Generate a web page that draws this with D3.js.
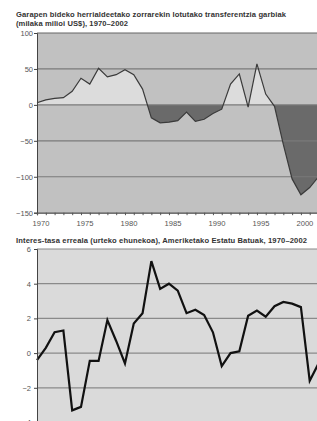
<!DOCTYPE html>
<html lang="en">
<head>
<meta charset="UTF-8">
<title>Transferentziak eta interes-tasa</title>
<script src="https://cdn.jsdelivr.net/npm/d3@7"></script>
<style>
  body { margin: 0; background: #fff; }
  svg { display: block; font-family: "Liberation Sans", Arial, sans-serif; }
</style>
</head>
<body>
<div id="chart"></div>
<script>
// years shared by both panels
const years = d3.range(1970, 2003);
// net transfers, thousand million US$
const transfers = [3, 7, 9, 10, 19, 37, 29, 51, 39, 42, 49, 42, 22, -18, -25,
  -24, -22, -10, -23, -20, -12, -6, 29, 43, -3, 57, 15, -2, -55, -103, -125, -115, -100];
// real interest rate, %
const rates = [-0.4, 0.3, 1.2, 1.3, -3.3, -3.1, -0.45, -0.45, 1.9, 0.7, -0.6, 1.7, 2.3, 5.3, 3.7,
  4.0, 3.6, 2.3, 2.5, 2.2, 1.2, -0.75, 0.0, 0.1, 2.15, 2.45, 2.1, 2.7, 2.95, 2.85, 2.65, -1.6, -0.6];
const topTicks = [100, 50, 0, -50, -100, -150];
const bottomTicks = [6, 4, 2, 0, -2, -4];
const yearLabels = [1970, 1975, 1980, 1985, 1990, 1995, 2000];

const w = 317, h = 421;
const left = 37;

const svg = d3.select('#chart').append('svg')
  .attr('width', w).attr('height', h);

const x = d3.scaleLinear().domain([1970, 2002]).range([left, 318.5]);

function title(txt, y, len) {
  svg.append('text').attr('x', 16).attr('y', y)
    .attr('font-size', 7.6).attr('font-weight', 'bold').attr('fill', '#333')
    .attr('textLength', len).attr('lengthAdjust', 'spacing')
    .text(txt);
}

// ---------- top panel ----------
const yTop = d3.scaleLinear().domain([-150, 100]).range([212.7, 33]);

title('Garapen bideko herrialdeetako zorrarekin lotutako transferentzia garbiak', 17, 270);
title('(milaka milioi US$), 1970–2002', 26, 112);

svg.append('rect').attr('x', left).attr('y', yTop(100))
  .attr('width', w - left).attr('height', yTop(-150) - yTop(100))
  .attr('fill', '#c1c1c1');

const defs = svg.append('defs');
defs.append('clipPath').attr('id', 'pos').append('rect')
  .attr('x', left).attr('y', yTop(100)).attr('width', w).attr('height', yTop(0) - yTop(100));
defs.append('clipPath').attr('id', 'neg').append('rect')
  .attr('x', left).attr('y', yTop(0)).attr('width', w).attr('height', yTop(-150) - yTop(0));

const pts = years.map((y, i) => ({ year: y, v: transfers[i] }));
const area = d3.area().x(d => x(d.year)).y0(yTop(0)).y1(d => yTop(d.v));

svg.append('path').datum(pts).attr('d', area)
  .attr('fill', '#dcdcdc').attr('clip-path', 'url(#pos)');
svg.append('path').datum(pts).attr('d', area)
  .attr('fill', '#6a6a6a').attr('clip-path', 'url(#neg)');

// grid lines
svg.append('g').selectAll('line').data(topTicks).enter().append('line')
  .attr('x1', left).attr('x2', w)
  .attr('y1', d => yTop(d)).attr('y2', d => yTop(d))
  .attr('stroke', d => d === 100 ? '#666' : '#7a7a7a')
  .attr('stroke-width', d => d === -150 ? 0 : 1.2);

svg.append('path').datum(pts)
  .attr('d', d3.line().x(d => x(d.year)).y(d => yTop(d.v)))
  .attr('fill', 'none').attr('stroke', '#3a3a3a').attr('stroke-width', 1.2);

// y axis
const yAxisTop = d3.axisLeft(yTop).tickValues(topTicks).tickSize(3).tickPadding(1)
  .tickFormat(d => d < 0 ? '−' + Math.abs(d) : d);
svg.append('g').attr('transform', `translate(${left},0)`).call(yAxisTop)
  .call(g => g.select('.domain').attr('stroke', '#444'))
  .call(g => g.selectAll('line').attr('stroke', '#444'))
  .call(g => g.selectAll('text').attr('font-size', 7.5).attr('fill', '#555'));

// x axis
const xAxis = d3.axisBottom(x).tickValues(years).tickSize(2.5).tickFormat('');
svg.append('g').attr('transform', `translate(0,${yTop(-150)})`).call(xAxis)
  .call(g => g.select('.domain').attr('stroke', '#444').attr('stroke-width', 1.2))
  .call(g => g.selectAll('line').attr('stroke', '#555'));
svg.append('g').selectAll('text').data(yearLabels).enter().append('text')
  .attr('x', d => x(d) + 4).attr('y', 226)
  .attr('text-anchor', 'middle').attr('font-size', 7.6).attr('fill', '#555')
  .text(d => d);

// ---------- bottom panel ----------
const yBot = d3.scaleLinear().domain([-4, 6]).range([422.5, 249]);

title('Interes-tasa erreala (urteko ehunekoa), Ameriketako Estatu Batuak, 1970–2002', 242.5, 291);

svg.append('rect').attr('x', left).attr('y', yBot(6))
  .attr('width', w - left).attr('height', yBot(-4) - yBot(6))
  .attr('fill', '#dadada');

svg.append('g').selectAll('line').data(bottomTicks).enter().append('line')
  .attr('x1', left).attr('x2', w)
  .attr('y1', d => yBot(d)).attr('y2', d => yBot(d))
  .attr('stroke', '#8a8a8a').attr('stroke-width', 1.2);

const ratePts = years.map((y, i) => ({ year: y, v: rates[i] }));
svg.append('path').datum(ratePts)
  .attr('d', d3.line().x(d => x(d.year)).y(d => yBot(d.v)))
  .attr('fill', 'none').attr('stroke', '#111').attr('stroke-width', 2.2)
  .attr('stroke-linejoin', 'miter');

const yAxisBot = d3.axisLeft(yBot).tickValues(bottomTicks).tickSize(3).tickPadding(3)
  .tickFormat(d => d < 0 ? '−' + Math.abs(d) : d);
svg.append('g').attr('transform', `translate(${left},0)`).call(yAxisBot)
  .call(g => g.select('.domain').attr('stroke', '#444'))
  .call(g => g.selectAll('line').attr('stroke', '#444'))
  .call(g => g.selectAll('text').attr('font-size', 7.5).attr('fill', '#555'));
</script>
</body>
</html>
